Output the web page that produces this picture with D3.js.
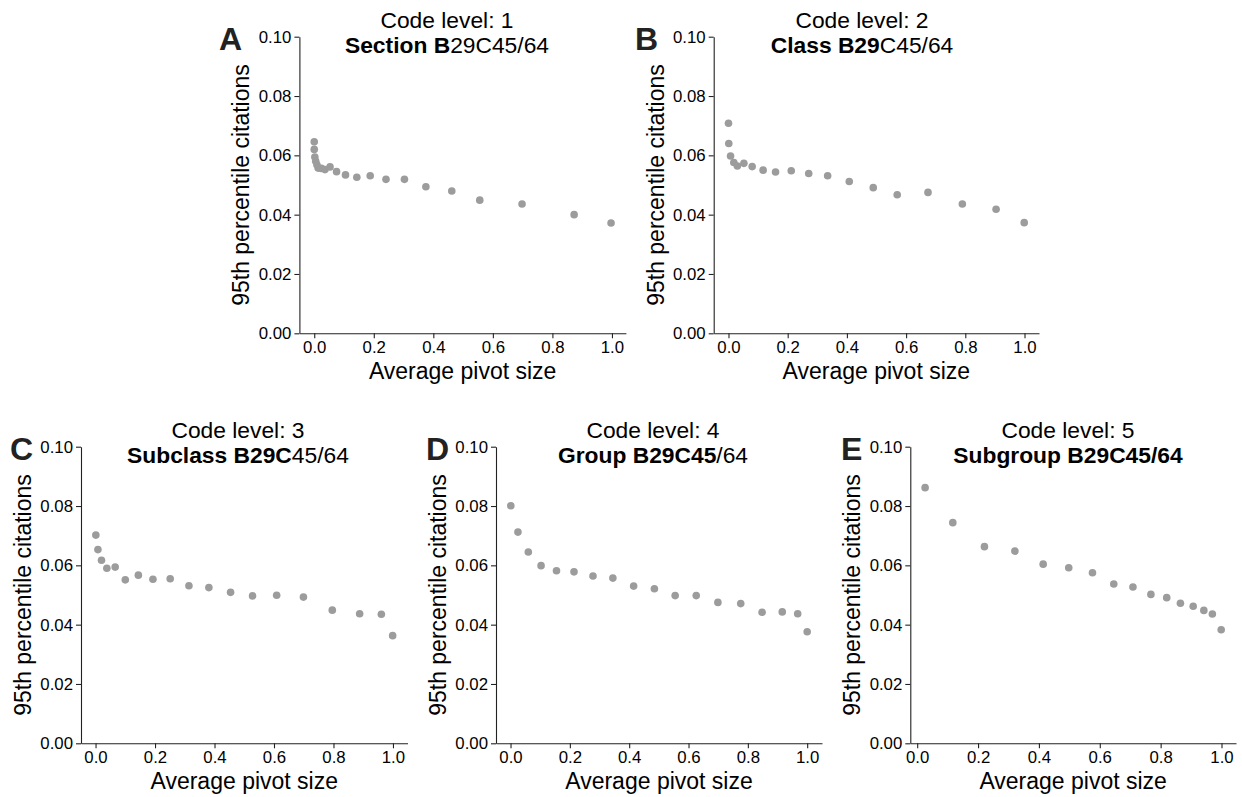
<!DOCTYPE html>
<html>
<head>
<meta charset="utf-8">
<script src="https://cdn.jsdelivr.net/npm/d3@7"></script>
<style>
  html, body { margin: 0; padding: 0; background: #ffffff; }
  svg { display: block; font-family: "Liberation Sans", Arial, Helvetica, sans-serif; }
</style>
</head>
<body>
<svg id="chart" width="1242" height="797"></svg>
<script>
// ---------------- DATA ----------------
const panelLetters = ["A", "B", "C", "D", "E"];
const codeLevels = ["Code level: 1", "Code level: 2", "Code level: 3", "Code level: 4", "Code level: 5"];
const titleBold = ["Section B", "Class B29", "Subclass B29C", "Group B29C45", "Subgroup B29C45/64"];
const titleNormal = ["29C45/64", "C45/64", "45/64", "/64", ""];
const xLabel = "Average pivot size";
const yLabel = "95th percentile citations";
const xTicks = [0.0, 0.2, 0.4, 0.6, 0.8, 1.0];
const yTicks = [0.00, 0.02, 0.04, 0.06, 0.08, 0.10];

// Panel A (code level 1)
const pivotA = [0.000, 0.000, 0.002, 0.005, 0.009, 0.013, 0.024, 0.036, 0.053, 0.075, 0.105, 0.143, 0.188, 0.241, 0.303, 0.375, 0.462, 0.556, 0.698, 0.873, 0.997];
const citeA  = [0.0646, 0.0620, 0.0594, 0.0580, 0.0568, 0.0557, 0.0556, 0.0552, 0.0561, 0.0545, 0.0534, 0.0526, 0.0531, 0.0519, 0.0519, 0.0494, 0.0480, 0.0449, 0.0436, 0.0400, 0.0372];
// Panel B (code level 2)
const pivotB = [0.000, 0.001, 0.007, 0.018, 0.030, 0.052, 0.080, 0.117, 0.159, 0.212, 0.271, 0.335, 0.408, 0.489, 0.570, 0.674, 0.790, 0.904, 0.999];
const citeB  = [0.0708, 0.0640, 0.0598, 0.0576, 0.0564, 0.0573, 0.0562, 0.0550, 0.0544, 0.0548, 0.0539, 0.0531, 0.0512, 0.0491, 0.0467, 0.0475, 0.0436, 0.0418, 0.0373];
// Panel C (code level 3)
const pivotC = [0.001, 0.008, 0.020, 0.038, 0.066, 0.100, 0.144, 0.193, 0.251, 0.314, 0.381, 0.454, 0.528, 0.609, 0.699, 0.796, 0.888, 0.961, 0.999];
const citeC  = [0.0702, 0.0653, 0.0617, 0.0590, 0.0594, 0.0551, 0.0567, 0.0553, 0.0555, 0.0531, 0.0525, 0.0509, 0.0497, 0.0499, 0.0493, 0.0449, 0.0437, 0.0435, 0.0363];
// Panel D (code level 4)
const pivotD = [0.001, 0.025, 0.060, 0.103, 0.155, 0.214, 0.278, 0.345, 0.415, 0.485, 0.555, 0.626, 0.699, 0.776, 0.848, 0.916, 0.968, 1.000];
const citeD  = [0.0801, 0.0712, 0.0645, 0.0599, 0.0582, 0.0578, 0.0564, 0.0557, 0.0530, 0.0521, 0.0498, 0.0498, 0.0475, 0.0471, 0.0442, 0.0443, 0.0437, 0.0376];
// Panel E (code level 5)
const pivotE = [0.026, 0.117, 0.221, 0.321, 0.414, 0.498, 0.576, 0.646, 0.709, 0.768, 0.820, 0.865, 0.907, 0.942, 0.970, 0.999];
const citeE  = [0.0862, 0.0744, 0.0663, 0.0648, 0.0604, 0.0592, 0.0575, 0.0537, 0.0527, 0.0502, 0.0491, 0.0472, 0.0462, 0.0448, 0.0436, 0.0383];

const pivots = [pivotA, pivotB, pivotC, pivotD, pivotE];
const cites = [citeA, citeB, citeC, citeD, citeE];

// ---------------- LAYOUT ----------------
const layout = [
  { left: 299.4, right: 625.9, top: 36.7, bottom: 333.3, titleX: 447, letterX: 219 },
  { left: 713.7, right: 1039.0, top: 36.7, bottom: 333.3, titleX: 862, letterX: 635 },
  { left: 81.0, right: 407.5, top: 446.7, bottom: 743.3, titleX: 238, letterX: 10 },
  { left: 496.0, right: 822.0, top: 446.7, bottom: 743.3, titleX: 653, letterX: 426 },
  { left: 910.3, right: 1236.0, top: 446.7, bottom: 743.3, titleX: 1068, letterX: 841 }
];

const dotColor = "#9c9c9c";
const axisColor = "#222";
const svg = d3.select("#chart");

layout.forEach((L, i) => {
  const xs = pivots[i], ys = cites[i];
  const [mn, mx] = d3.extent(xs);
  const pad = 0.05 * (mx - mn);
  const x = d3.scaleLinear().domain([mn - pad, mx + pad]).range([L.left, L.right]);
  const y = d3.scaleLinear().domain([0, 0.10]).range([L.bottom, L.top]);

  const g = svg.append("g");

  // axes
  const xa = g.append("g").attr("transform", `translate(0,${L.bottom})`)
    .call(d3.axisBottom(x).tickValues(xTicks).tickFormat(d3.format(".1f")).tickSize(5).tickPadding(3).tickSizeOuter(0));
  const ya = g.append("g").attr("transform", `translate(${L.left},0)`)
    .call(d3.axisLeft(y).tickValues(yTicks).tickFormat(d3.format(".2f")).tickSize(5).tickPadding(3).tickSizeOuter(0));
  [xa, ya].forEach(a => {
    a.selectAll("path, line").attr("stroke", axisColor).attr("stroke-width", 1.1);
    a.selectAll("text").attr("fill", "#000").style("font-size", "16.8px")
      .style("font-family", "'Liberation Sans', Arial, sans-serif");
  });

  // points
  g.append("g").selectAll("circle")
    .data(xs.map((v, k) => [v, ys[k]]))
    .join("circle")
    .attr("cx", d => x(d[0]))
    .attr("cy", d => y(d[1]))
    .attr("r", 3.8)
    .attr("fill", dotColor);

  // axis labels
  g.append("text")
    .attr("x", (L.left + L.right) / 2)
    .attr("y", L.bottom + 46)
    .attr("text-anchor", "middle")
    .style("font-size", "23px")
    .text(xLabel);
  g.append("text")
    .attr("transform", `translate(${L.left - 50},${(L.top + L.bottom) / 2}) rotate(-90)`)
    .attr("text-anchor", "middle")
    .style("font-size", "23px")
    .text(yLabel);

  // titles
  g.append("text")
    .attr("x", L.titleX)
    .attr("y", L.top - 8.5)
    .attr("text-anchor", "middle")
    .style("font-size", "22.8px")
    .text(codeLevels[i]);
  const t2 = g.append("text")
    .attr("x", L.titleX)
    .attr("y", L.top + 16.5)
    .attr("text-anchor", "middle")
    .style("font-size", "22.8px");
  t2.append("tspan").style("font-weight", "bold").text(titleBold[i]);
  if (titleNormal[i]) t2.append("tspan").text(titleNormal[i]);

  // panel letter
  g.append("text")
    .attr("x", L.letterX)
    .attr("y", L.top + 13.3)
    .style("font-size", "32px")
    .style("font-weight", "bold")
    .attr("fill", "#222")
    .text(panelLetters[i]);
});
</script>
</body>
</html>
